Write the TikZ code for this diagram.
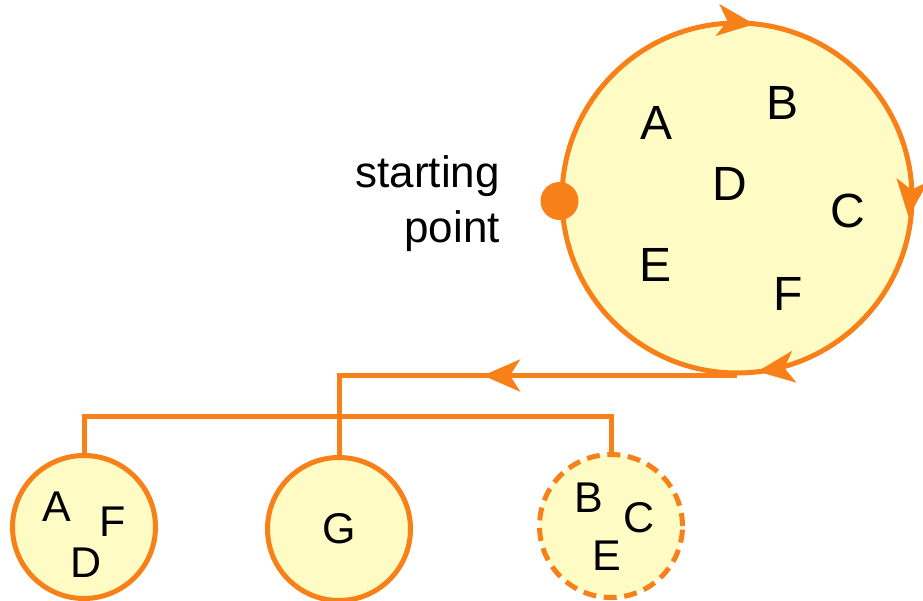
\documentclass[tikz,border=0pt]{standalone}
\usepackage{fontspec}
\setmainfont{Liberation Sans}
\usetikzlibrary{arrows.meta,decorations.markings,calc}
\definecolor{orng}{RGB}{247,128,24}
\definecolor{pale}{RGB}{255,251,196}
\tikzset{
  ring/.style={circle, draw=orng, fill=pale, line width=5pt, inner sep=0pt},
  bigring/.style={ring, minimum size=350pt},
  smallring/.style={ring, minimum size=143pt},
  dashring/.style={smallring, dash pattern=on 13pt off 7.6pt},
  conn/.style={draw=orng, line width=5pt},
  bigletter/.style={inner sep=0pt, font=\fontsize{48}{48}\selectfont},
  smallletter/.style={inner sep=0pt, font=\fontsize{43}{43}\selectfont},
  mytip/.tip={Stealth[length=37pt, width=32pt, inset=10pt]},
  splab/.style={inner sep=0pt, align=right, font=\fontsize{44}{55}\selectfont}
}
\begin{document}
\begin{tikzpicture}[x=1pt, y=-1pt]
\useasboundingbox (0,0) rectangle (923,601);
% big circle
\node[bigring] (big) at (737,198) {};
\path[postaction={decorate}, decoration={markings,
    mark=at position 0.268 with {\arrow[orng]{mytip}},
    mark=at position 0.517 with {\arrow[orng]{mytip}},
    mark=at position 0.729 with {\arrow[orng]{mytip}}}]
  (big.west) arc[start angle=180, end angle=540, radius=175];
\node[circle, fill=orng, minimum size=38pt, inner sep=0pt] (sp) at ($(big.west)+(0,3)$) {};
\node[splab, anchor=east] (splabel) at (500,204) {starting\\point};
% letters big circle
\node[bigletter] (bA) at (656,123) {A};
\node[bigletter] (bB) at (782,103) {B};
\node[bigletter] (bD) at (730,184) {D};
\node[bigletter] (bC) at (848,211) {C};
\node[bigletter] (bE) at (655,265) {E};
\node[bigletter] (bF) at (788,294) {F};
% small circles
\node[smallring] (l) at (84,527) {};
\node[smallring] (g) at (339,529) {};
\node[dashring] (r) at (611,526) {};
\node[smallletter] (lA) at (57,507) {A};
\node[smallletter] (lF) at (113,522) {F};
\node[smallletter] (lD) at (86,563) {D};
\node[smallletter] (gG) at (339,529) {G};
\node[smallletter] (rB) at (589,498) {B};
\node[smallletter] (rC) at (639,518) {C};
\node[smallletter] (rE) at (607,556) {E};
% connectors
\draw[conn, postaction={decorate}, decoration={markings,
    mark=at position 254pt with {\arrow[orng]{mytip}}}]
  (big.south) -| (g.north);
\draw[conn] (l.north) -- ++(0,-37) -| (r.north);
\end{tikzpicture}
\end{document}
